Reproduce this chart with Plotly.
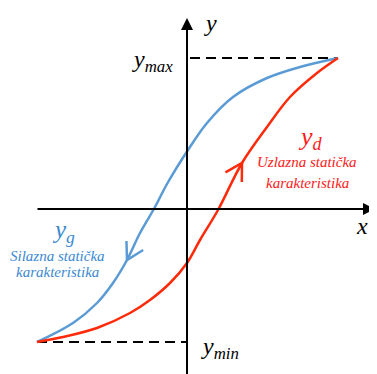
"""Static hysteresis characteristic: rising (y_d) and falling (y_g) branches."""

import numpy as np
import plotly.graph_objects as go

# Coordinates measured from the origin (one unit ~ one pixel of the drawing)
Y_MAX = 151
Y_MIN = -133
X_LEFT = -150
X_RIGHT = 151

# falling branch y_g (drawn from the top right down to the bottom left)
falling_x = [151, 113, 80, 46, 20, 1, -20, -32, -47, -60, -74, -90, -114, -150]
falling_y = [151, 142, 131, 112, 86, 59, 25, 2, -24, -51, -74, -94, -114, -133]

# rising branch y_d (drawn from the bottom left up to the top right)
rising_x = [-150, -124, -90, -57, -37, -17, 0, 13, 31, 55, 80, 103, 130, 151]
rising_y = [-133, -128, -119, -104, -91, -74, -54, -31, -1, 46, 82, 112, 136, 151]

# which point of each branch carries the direction arrow
falling_arrow_idx = 9
rising_arrow_idx = 9

BLUE = "#5B9BD5"
BLUE_TEXT = "#3A89D1"
RED = "#FF2A0A"
RED_TEXT = "#FF1A1A"
FONT = "Liberation Serif, Times New Roman, serif"


def chevron(xs, ys, idx, length=19, spread=30):
    """Open arrowhead at point idx, pointing along the drawing direction."""
    dx = xs[idx + 1] - xs[idx - 1]
    dy = ys[idx + 1] - ys[idx - 1]
    back = np.degrees(np.arctan2(dy, dx)) + 180
    tip = (xs[idx], ys[idx])
    arm_x, arm_y = [], []
    for a in (back - spread, back + spread):
        r = np.radians(a)
        arm_x.append(tip[0] + length * np.cos(r))
        arm_y.append(tip[1] + length * np.sin(r))
    return [arm_x[0], tip[0], arm_x[1]], [arm_y[0], tip[1], arm_y[1]]


fig = go.Figure()

# dashed reference levels
fig.add_trace(go.Scatter(x=[3, X_RIGHT], y=[Y_MAX, Y_MAX], mode="lines",
                         line=dict(color="black", width=2, dash="10px,6px"),
                         hoverinfo="skip"))
fig.add_trace(go.Scatter(x=[X_LEFT, 0], y=[Y_MIN, Y_MIN], mode="lines",
                         line=dict(color="black", width=2, dash="10px,6px"),
                         hoverinfo="skip"))

# branches
fig.add_trace(go.Scatter(x=falling_x, y=falling_y, mode="lines",
                         line=dict(color=BLUE, width=2.5, shape="spline", smoothing=1),
                         hoverinfo="skip"))
fig.add_trace(go.Scatter(x=rising_x, y=rising_y, mode="lines",
                         line=dict(color=RED, width=2.5, shape="spline", smoothing=1),
                         hoverinfo="skip"))

cx, cy = chevron(falling_x, falling_y, falling_arrow_idx)
fig.add_trace(go.Scatter(x=cx, y=cy, mode="lines",
                         line=dict(color=BLUE, width=2.5), hoverinfo="skip"))
cx, cy = chevron(rising_x, rising_y, rising_arrow_idx)
fig.add_trace(go.Scatter(x=cx, y=cy, mode="lines",
                         line=dict(color=RED, width=2.5), hoverinfo="skip"))

# axes with arrows
axis_arrow = dict(text="", showarrow=True, axref="x", ayref="y",
                  arrowhead=2, arrowsize=1.2, arrowwidth=2, arrowcolor="black")
fig.add_annotation(x=188, y=0, ax=-151, ay=0, **axis_arrow)
fig.add_annotation(x=0, y=191, ax=0, ay=-170, **axis_arrow)


def label(text, x, y, size, color="black", xanchor="center"):
    fig.add_annotation(x=x, y=y, text=text, showarrow=False, xanchor=xanchor,
                       font=dict(family=FONT, size=size, color=color))


label("<i>y</i>", 23, 186, 24)
label("<i>x</i>", 175, -17, 24)
label("<i>y<sub>max</sub></i>", -12, 148, 24, xanchor="right")
label("<i>y<sub>min</sub></i>", 12, -139, 24, xanchor="left")

label("<i>y<sub>d</sub></i>", 123, 71, 26, RED_TEXT)
label("<i>Uzlazna statička</i>", 120, 47, 15, RED_TEXT)
label("<i>karakteristika</i>", 120, 26, 15, RED_TEXT)

label("<i>y<sub>g</sub></i>", -124, -22, 25, BLUE_TEXT)
label("<i>Silazna statička</i>", -130, -47, 15, BLUE_TEXT)
label("<i>karakteristika</i>", -130, -63, 15, BLUE_TEXT)

# the page adds an 8 px body margin, so the figure is 8 px smaller each way
fig.update_layout(
    width=369,
    height=366,
    margin=dict(l=0, r=0, t=0, b=0),
    showlegend=False,
    plot_bgcolor="white",
    paper_bgcolor="white",
    xaxis=dict(range=[-179, 190], visible=False, fixedrange=True),
    yaxis=dict(range=[-165, 201], visible=False, fixedrange=True),
)

fig.write_html("out.html")
